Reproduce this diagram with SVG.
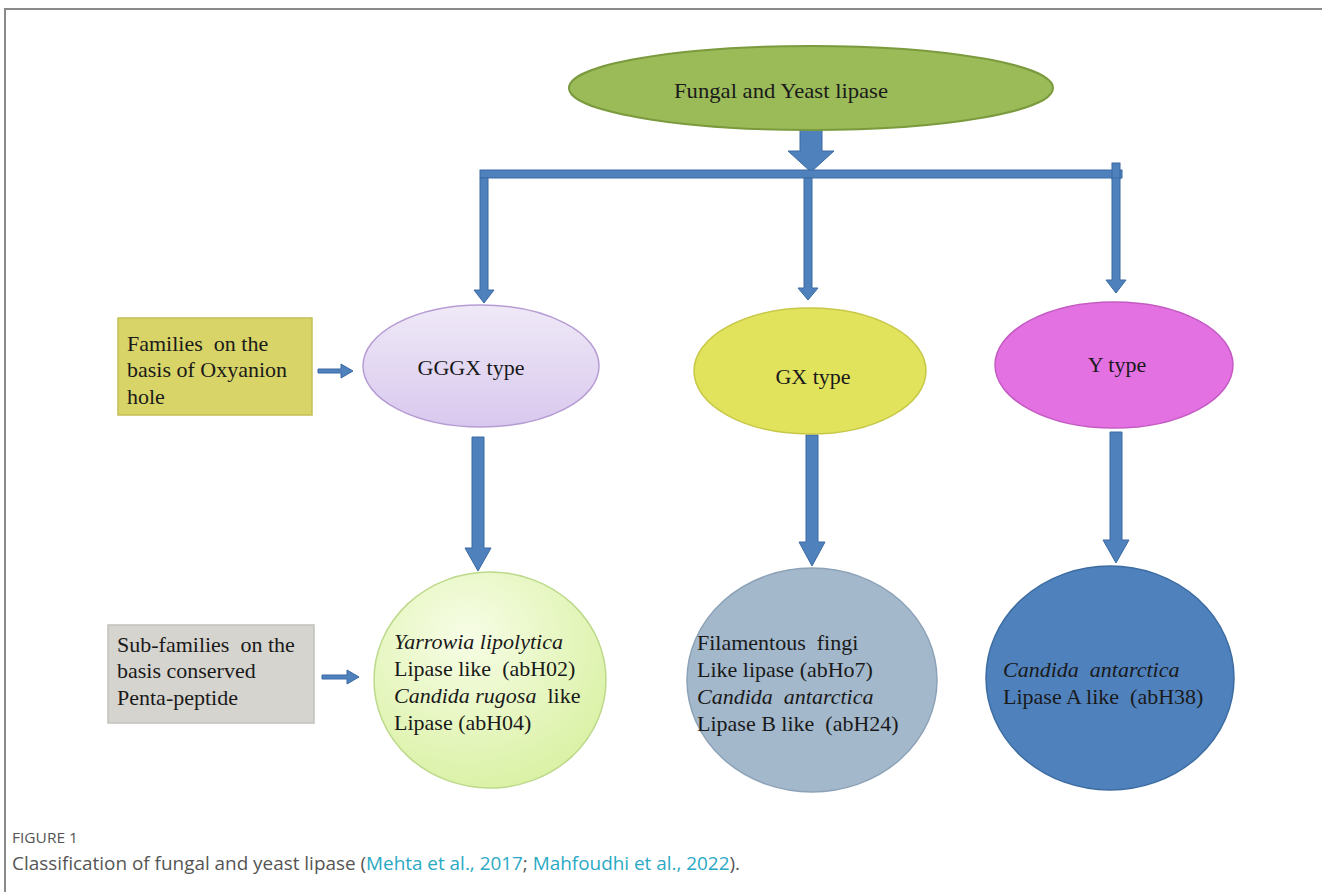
<svg xmlns="http://www.w3.org/2000/svg" width="1322" height="892" viewBox="0 0 1322 892">
<style>
.t{font-family:"Liberation Serif","Times New Roman",serif;font-size:22px;fill:#1a1a1a;white-space:pre}
.i{font-style:italic}
.arr{fill:#4f81bd;stroke:#3a6aa3;stroke-width:1}
.cap{font-family:"Open Sans","Liberation Sans",sans-serif;fill:#555}
.lnk{fill:#2aa9c4}
</style>
<defs>
<linearGradient id="gLav" x1="0" y1="0" x2="0" y2="1">
<stop offset="0" stop-color="#efe9f7"/><stop offset="1" stop-color="#d9c8ee"/>
</linearGradient>
<radialGradient id="gGrn" cx="0.4" cy="0.3" r="0.8">
<stop offset="0" stop-color="#f7fde6"/><stop offset="1" stop-color="#d7f09e"/>
</radialGradient>
</defs>
<rect x="0" y="0" width="1322" height="892" fill="#fff"/>
<path d="M5 892 V9 H1322" fill="none" stroke="#8a8a8a" stroke-width="2"/>

<g id="connectors">
<polygon class="arr" points="800,123 822,123 822,151 834,151 811,172 788,151 800,151"/>
<rect class="arr" x="480" y="170" width="642" height="8"/>
<rect class="arr" x="1112" y="163" width="8" height="16"/>
<polygon class="arr" points="480,178 488,178 488,290 494,290 484,303 474,290 480,290"/>
<polygon class="arr" points="804,178 812,178 812,288 818,288 808,300 798,288 804,288"/>
<polygon class="arr" points="1112,178 1120,178 1120,280 1126,280 1116,293 1106,280 1112,280"/>
<polygon class="arr" points="472,437 484,437 484,548 491,548 478,571 465,548 472,548"/>
<polygon class="arr" points="806,435 818,435 818,542 825,542 812,566 799,542 806,542"/>
<polygon class="arr" points="1110,432 1122,432 1122,540 1129,540 1116,563 1103,540 1110,540"/>
<polygon class="arr" points="318,369 341,369 341,364 353,371 341,378 341,373 318,373"/>
<polygon class="arr" points="322,675 347,675 347,670 359,677 347,684 347,679 322,679"/>
</g>

<g id="root">
<ellipse cx="811" cy="88" rx="242" ry="42" fill="#9bbb59" stroke="#7b9a3d" stroke-width="2"/>
<text class="t" x="781" y="98" text-anchor="middle" textLength="214" lengthAdjust="spacingAndGlyphs">Fungal and Yeast lipase</text>
</g>

<g id="families-label">
<rect x="118" y="318" width="194" height="97" fill="#d8d467" stroke="#c4bf55" stroke-width="1.5"/>
<text class="t" x="127" y="351">Families  on the</text>
<text class="t" x="127" y="377">basis of Oxyanion</text>
<text class="t" x="127" y="404">hole</text>
</g>

<g id="gggx">
<ellipse cx="481" cy="366" rx="118" ry="61" fill="url(#gLav)" stroke="#b79cd3" stroke-width="1.5"/>
<text class="t" x="471" y="375" text-anchor="middle">GGGX type</text>
</g>

<g id="gx">
<ellipse cx="810" cy="371" rx="116" ry="63" fill="#e2e35d" stroke="#c7c748" stroke-width="1.5"/>
<text class="t" x="813" y="384" text-anchor="middle">GX type</text>
</g>

<g id="ytype">
<ellipse cx="1114" cy="365" rx="119" ry="63" fill="#e371e2" stroke="#c45bc3" stroke-width="1.5"/>
<text class="t" x="1117" y="372" text-anchor="middle">Y type</text>
</g>

<g id="subfamilies-label">
<rect x="108" y="625" width="206" height="98" fill="#d6d4cf" stroke="#c2c0ba" stroke-width="1.5"/>
<text class="t" x="117" y="652">Sub-families  on the</text>
<text class="t" x="117" y="678">basis conserved</text>
<text class="t" x="117" y="705">Penta-peptide</text>
</g>

<g id="gggx-sub">
<ellipse cx="490" cy="680" rx="116" ry="108" fill="url(#gGrn)" stroke="#bcd98a" stroke-width="1.5"/>
<text class="t i" x="394" y="649">Yarrowia lipolytica</text>
<text class="t" x="394" y="676">Lipase like  (abH02)</text>
<text class="t" x="394" y="703"><tspan class="i">Candida rugosa</tspan>  like</text>
<text class="t" x="394" y="730">Lipase (abH04)</text>
</g>

<g id="gx-sub">
<ellipse cx="812" cy="680" rx="125" ry="112" fill="#a3b8cb" stroke="#8da2b6" stroke-width="1.5"/>
<text class="t" x="697" y="650">Filamentous  fingi</text>
<text class="t" x="697" y="677">Like lipase (abHo7)</text>
<text class="t i" x="697" y="704">Candida  antarctica</text>
<text class="t" x="697" y="731">Lipase B like  (abH24)</text>
</g>

<g id="y-sub">
<ellipse cx="1110" cy="678" rx="124" ry="112" fill="#4f81bd" stroke="#3d6ca1" stroke-width="1.5"/>
<text class="t i" x="1003" y="677">Candida  antarctica</text>
<text class="t" x="1003" y="704">Lipase A like  (abH38)</text>
</g>

<g id="caption">
<text class="cap" x="12" y="843" font-size="14" textLength="66" lengthAdjust="spacingAndGlyphs">FIGURE 1</text>
<text class="cap" x="12" y="870" font-size="17.5" textLength="728" lengthAdjust="spacingAndGlyphs">Classification of fungal and yeast lipase (<tspan class="lnk">Mehta et al., 2017</tspan>; <tspan class="lnk">Mahfoudhi et al., 2022</tspan>).</text>
</g>
</svg>
